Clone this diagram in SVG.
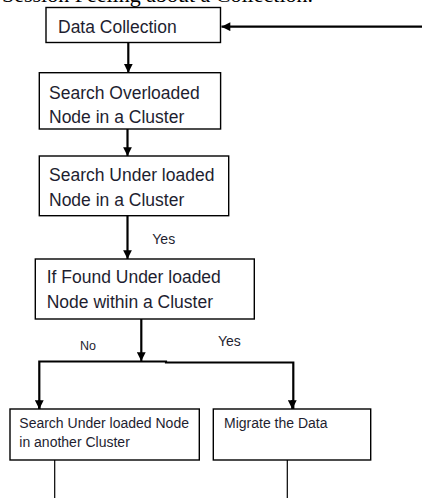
<svg xmlns="http://www.w3.org/2000/svg" width="422" height="498" viewBox="0 0 422 498">
<style>
.box{fill:#fff;stroke:#000;stroke-width:1.4}
.t{font-family:"Liberation Sans",Arial,sans-serif;font-size:17.5px;fill:#1e1e30}
.ts{font-family:"Liberation Sans",Arial,sans-serif;font-size:14px;fill:#1e1e30}
.lbl{font-family:"Liberation Sans",Arial,sans-serif;font-size:14px;fill:#1e1e30}
.c{fill:none;stroke:#000;stroke-width:2.2}
.thin{fill:none;stroke:#000;stroke-width:1.2}
.cap{font-family:"Liberation Serif","Times New Roman",serif;font-size:22px;fill:#000}
</style>
<defs>
<marker id="ah" viewBox="0 0 10 10" refX="10" refY="5" markerWidth="4.5" markerHeight="4" orient="auto" markerUnits="strokeWidth">
<path d="M0,0 L10,5 L0,10 z" fill="#000"/>
</marker>
</defs>
<text class="cap" x="313" y="1.5" text-anchor="end">Session Feeling about a Collection.</text>
<g id="connectors">
<path class="c" d="M422,26.7 H221.5" marker-end="url(#ah)"/>
<path class="c" d="M128.3,42.7 V72.7" marker-end="url(#ah)"/>
<path class="c" d="M127.5,129 V156" marker-end="url(#ah)"/>
<path class="c" d="M127.5,215.7 V259" marker-end="url(#ah)"/>
<path class="c" d="M141.3,319 V361" marker-end="url(#ah)"/>
<path class="c" d="M39.3,409 V361.5 H166 V362.5 H293.3 V409"/>
<path class="c" d="M39.3,400 V409" marker-end="url(#ah)"/>
<path class="c" d="M292.3,400 V409" marker-end="url(#ah)"/>
<path class="thin" d="M54.7,460 V498"/>
<path class="thin" d="M287.3,460 V498"/>
</g>
<g id="n1">
<rect class="box" x="46" y="7.5" width="174.5" height="35"/>
<text class="t" x="58" y="32.5">Data Collection</text>
</g>
<g id="n2">
<rect class="box" x="39.3" y="72.7" width="181.3" height="56.3"/>
<text class="t" x="49" y="99.3">Search Overloaded</text>
<text class="t" x="49" y="123.3">Node in a Cluster</text>
</g>
<g id="n3">
<rect class="box" x="39.3" y="156" width="189.4" height="59.7"/>
<text class="t" x="49" y="180.7">Search Under loaded</text>
<text class="t" x="49" y="205.7">Node in a Cluster</text>
</g>
<g id="n4">
<rect class="box" x="35.3" y="259" width="219" height="60"/>
<text class="t" x="46.7" y="283.3">If Found Under loaded</text>
<text class="t" x="46.7" y="308.3">Node within a Cluster</text>
</g>
<g id="n5">
<rect class="box" x="10" y="409" width="189.3" height="51"/>
<text class="ts" x="19.3" y="428.3">Search Under loaded Node</text>
<text class="ts" x="19.3" y="446.7">in another Cluster</text>
</g>
<g id="n6">
<rect class="box" x="213.3" y="409" width="157.4" height="51"/>
<text class="ts" x="224" y="428.3">Migrate the Data</text>
</g>
<g id="labels">
<text class="lbl" x="152.3" y="244.3">Yes</text>
<text class="lbl" x="80" y="350" style="font-size:12.5px">No</text>
<text class="lbl" x="218" y="345.7">Yes</text>
</g>
</svg>
